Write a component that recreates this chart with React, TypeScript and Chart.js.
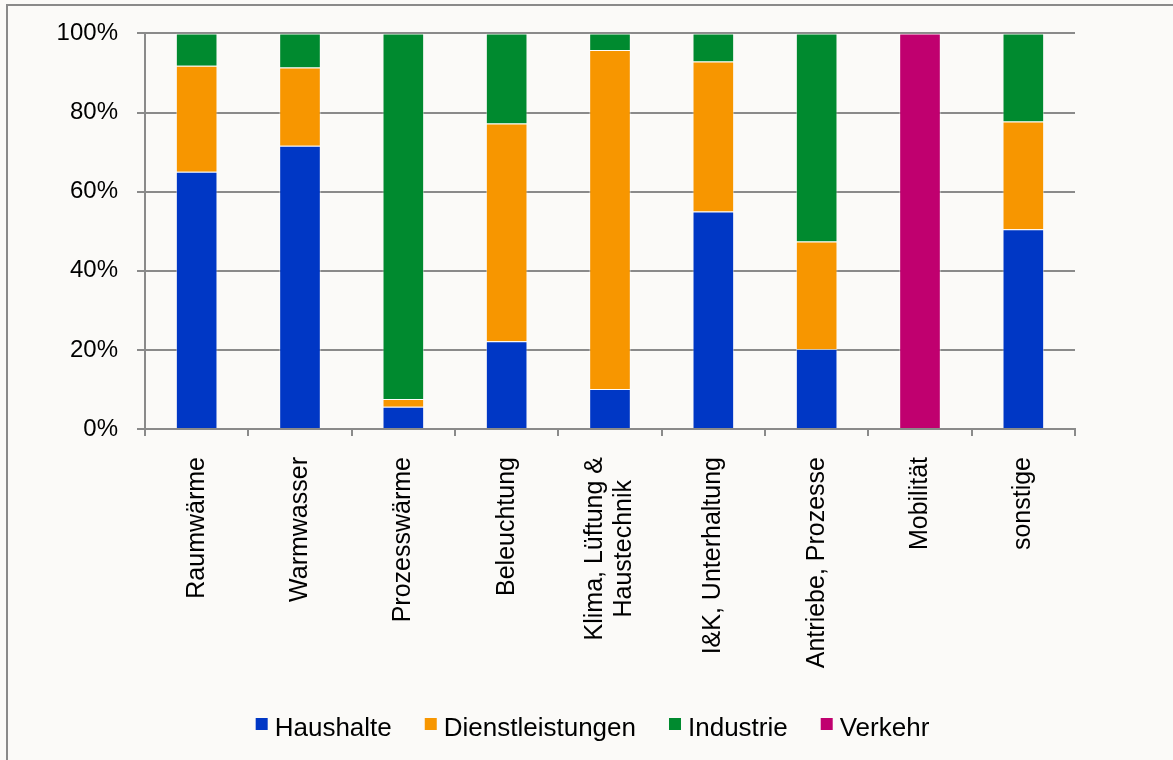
import React, { useEffect, useRef } from "react";
import { Chart, registerables } from "chart.js";

Chart.register(...registerables);

// Anwendungsbereiche (x-Achse); mehrzeilige Beschriftungen als Arrays
const categories: (string | string[])[] = [
  "Raumwärme",
  "Warmwasser",
  "Prozesswärme",
  "Beleuchtung",
  ["Klima, Lüftung &", "Haustechnik"],
  "I&K, Unterhaltung",
  "Antriebe, Prozesse",
  "Mobilität",
  "sonstige",
];

// Anteile je Sektor in Prozent
const haushalte = [65.0, 71.6, 5.6, 22.2, 10.1, 55.0, 20.2, null, 50.5];
const dienstleistungen = [26.8, 19.8, 2.0, 55.0, 85.7, 37.9, 27.2, null, 27.2];
const industrie = [8.2, 8.6, 92.4, 22.8, 4.2, 7.1, 52.6, null, 22.3];
const verkehr = [null, null, null, null, null, null, null, 100, null];

const yTicks = [0, 20, 40, 60, 80, 100];

const FONT = '"Liberation Sans", Arial, sans-serif';
const GRID = "#8a8a8a";

// Rotated category labels, lines centred on each other
const xLabelPlugin = {
  id: "xLabels",
  afterDraw(chart: any) {
    const scale = chart.scales.x;
    const ctx = chart.ctx;
    const top = 457;
    const lineH = 29;
    ctx.save();
    ctx.font = `25px ${FONT}`;
    ctx.fillStyle = "#000";
    ctx.textBaseline = "middle";
    chart.data.labels.forEach((lab: string | string[], i: number) => {
      const lines = Array.isArray(lab) ? lab : [lab];
      const x = scale.getPixelForTick(i);
      const maxW = Math.max(...lines.map((l) => ctx.measureText(l).width));
      ctx.save();
      ctx.translate(x, top);
      ctx.rotate(-Math.PI / 2);
      lines.forEach((l, j) => {
        const off = (j - (lines.length - 1) / 2) * lineH;
        if (lines.length === 1) {
          ctx.textAlign = "right";
          ctx.fillText(l, 0, off);
        } else {
          ctx.textAlign = "center";
          ctx.fillText(l, -maxW / 2, off);
        }
      });
      ctx.restore();
    });
    ctx.restore();
  },
};

// Legend row below the labels
const legendPlugin = {
  id: "legendRow",
  afterDraw(chart: any) {
    const ctx = chart.ctx;
    const box = 12;
    const gapText = 7;
    const gapItem = 33;
    const baseline = 736;
    const center = 592.5;
    ctx.save();
    ctx.font = `26px ${FONT}`;
    ctx.textBaseline = "alphabetic";
    ctx.textAlign = "left";
    const items = chart.data.datasets.map((d: any) => ({
      label: d.label,
      color: d.backgroundColor,
      w: ctx.measureText(d.label).width,
    }));
    const total =
      items.reduce((s: number, it: any) => s + box + gapText + it.w, 0) +
      gapItem * (items.length - 1);
    let x = center - total / 2;
    items.forEach((it: any) => {
      ctx.fillStyle = it.color;
      ctx.fillRect(x, baseline - 18, box, box);
      ctx.fillStyle = "#000";
      ctx.fillText(it.label, x + box + gapText, baseline);
      x += box + gapText + it.w + gapItem;
    });
    ctx.restore();
  },
};

export default function App() {
  const ref = useRef<HTMLCanvasElement | null>(null);

  useEffect(() => {
    if (!ref.current) return;
    Chart.defaults.font.family = FONT;
    const border = "rgba(255,255,255,0.45)";
    const chart = new Chart(ref.current, {
      type: "bar",
      data: {
        labels: categories as any,
        datasets: [
          { label: "Haushalte", data: haushalte, backgroundColor: "#0037c5", borderColor: border, borderWidth: 1 },
          { label: "Dienstleistungen", data: dienstleistungen, backgroundColor: "#f79600", borderColor: border, borderWidth: 1 },
          { label: "Industrie", data: industrie, backgroundColor: "#008a2f", borderColor: border, borderWidth: 1 },
          { label: "Verkehr", data: verkehr, backgroundColor: "#c0006f", borderColor: border, borderWidth: 1 },
        ],
      },
      options: {
        animation: false,
        responsive: false,
        maintainAspectRatio: false,
        devicePixelRatio: 1,
        layout: { padding: { top: 33, right: 98, bottom: 0, left: 0 } },
        datasets: { bar: { categoryPercentage: 1, barPercentage: 0.403 } },
        plugins: {
          legend: { display: false },
          tooltip: { enabled: false },
          title: { display: false },
        },
        scales: {
          x: {
            stacked: true,
            offset: true,
            grid: {
              offset: true,
              drawOnChartArea: false,
              drawTicks: true,
              tickLength: 7,
              color: GRID,
              lineWidth: 2,
            },
            border: { color: GRID, width: 2 },
            ticks: { display: false },
            afterFit: (s: any) => {
              s.height = 760 - 429;
            },
          },
          y: {
            stacked: true,
            min: 0,
            max: 100,
            afterBuildTicks: (s: any) => {
              s.ticks = yTicks.map((v) => ({ value: v }));
            },
            ticks: {
              stepSize: 20,
              padding: 19,
              color: "#000",
              font: { size: 24, family: FONT },
              callback: (v: any) => `${v}%`,
            },
            grid: { color: GRID, lineWidth: 2, tickLength: 8 },
            border: { color: GRID, width: 2 },
            afterFit: (s: any) => {
              s.width = 145;
            },
          },
        },
      },
      plugins: [xLabelPlugin, legendPlugin],
    });
    return () => chart.destroy();
  }, []);

  return (
    <div
      style={{
        position: "absolute",
        left: 0,
        top: 0,
        width: 1173,
        height: 760,
        background: "#fbfaf8",
        overflow: "hidden",
      }}
    >
      <div
        style={{
          position: "absolute",
          left: 6,
          top: 4,
          width: 1300,
          height: 900,
          borderTop: "2px solid #8a8a8a",
          borderLeft: "2px solid #8a8a8a",
        }}
      />
      <canvas
        ref={ref}
        width={1173}
        height={760}
        style={{ position: "absolute", left: 0, top: 0, width: 1173, height: 760 }}
      />
    </div>
  );
}
